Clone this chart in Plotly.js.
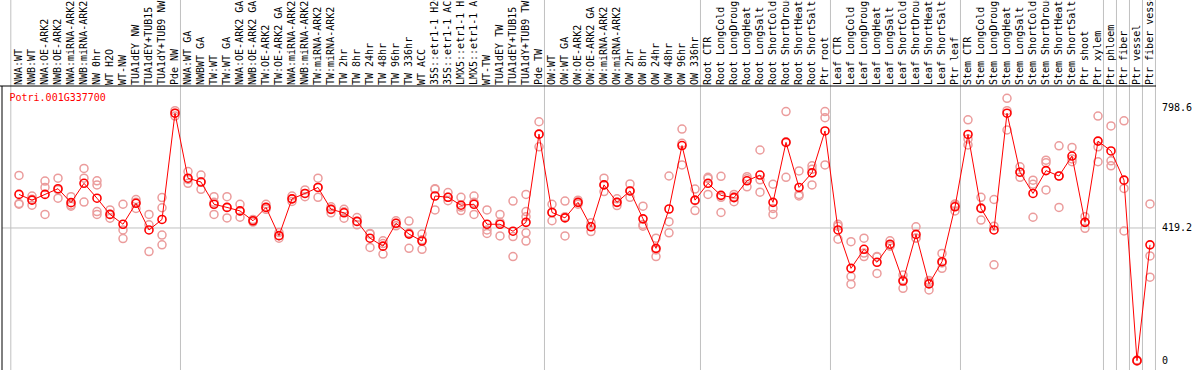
<!DOCTYPE html>
<html>
<head>
<meta charset="utf-8">
<script src="https://cdn.plot.ly/plotly-3.0.1.min.js"></script>
<style>
html,body{margin:0;padding:0;background:#fff;}
#chart{width:1194px;height:370px;}
</style>
</head>
<body>
<div id="chart"></div>
<script>
const geneName = "Potri.001G337700";

const categories = [
  "NWA:WT","NWB:WT","NWA:OE-ARK2","NWB:OE-ARK2","NWA:miRNA-ARK2","NWB:miRNA-ARK2","NW 0hr","WT H2O","WT-NW","TUA1dEY NW","TUA1dEY+TUB15","TUA1dY+TUB9 NW","Pde NW",
  "NWA:WT GA","NWBWT GA","TW:WT","TW:WT GA","NWA:OE-ARK2 GA","NWB:OE-ARK2 GA","TW:OE-ARK2","TW:OE-ARK2 GA","NWA:miRNA-ARK2","NWB:miRNA-ARK2","TW:miRNA-ARK2","TW:miRNA-ARK2","TW 2hr","TW 8hr","TW 24hr","TW 48hr","TW 96hr","TW 336hr","WT ACC","35S::etr1-1 H2O","35S::etr1-1 ACC","LMX5::etr1-1 H2O","LMX5::etr1-1 ACC","WT-TW","TUA1dEY TW","TUA1dEY+TUB15","TUA1dY+TUB9 TW","Pde TW",
  "OW:WT","OW:WT GA","OW:OE-ARK2","OW:OE-ARK2 GA","OW:miRNA-ARK2","OW:miRNA-ARK2","OW 2hr","OW 8hr","OW 24hr","OW 48hr","OW 96hr","OW 336hr",
  "Root CTR","Root LongCold","Root LongDrought","Root LongHeat","Root LongSalt","Root ShortCold","Root ShortDrought","Root ShortHeat","Root ShortSalt","Ptr root",
  "Leaf CTR","Leaf LongCold","Leaf LongDrought","Leaf LongHeat","Leaf LongSalt","Leaf ShortCold","Leaf ShortDrought","Leaf ShortHeat","Leaf ShortSalt","Ptr leaf",
  "Stem CTR","Stem LongCold","Stem LongDrought","Stem LongHeat","Stem LongSalt","Stem ShortCold","Stem ShortDrought","Stem ShortHeat","Stem ShortSalt","Ptr shoot","Ptr xylem",
  "Ptr phloem","Ptr fiber","Ptr vessel","Ptr fiber vessel"
];

const groupSizes = [13, 28, 12, 10, 10, 11, 1, 1, 1, 1];

const meanValues = [
  525,507,525,543,499,560,513,462,431,497,413,446,781,
  576,564,494,484,473,442,484,395,511,528,547,478,467,440,387,362,434,400,378,520,516,491,494,431,431,409,437,715,
  468,451,500,423,555,500,536,448,355,479,679,507,
  560,522,515,568,586,500,689,547,593,725,
  413,292,352,311,368,252,399,243,313,486,
  714,481,413,781,595,528,600,583,646,437,693,
  662,570,1,366
];

const replicates = [
  [585,496,494],[520,510,491],[567,547,462],[576,540,513],[518,492,488],[607,576,501],[568,555,471,462],[476,462,450],[494,413,386],[509,500,481],[462,429,345],[515,483,397,366],[789,781,772],
  [597,572,560],[586,565,541],[518,500,462],[518,484,451],[494,472,453],[446,442,438],[494,484,478],[405,395,387],[520,511,503],[539,528,518],[576,547,516],[486,478,467],[478,470,450],[452,440,429],[402,400,358],[379,370,337],[442,434,426],[441,404,355],[400,382,352],[543,541,476],[531,516,505],[516,485,474],[520,500,462],[476,413,402],[462,437,394],[504,392,329],[525,471,455,404,378],[754,715,675],
  [494,468,442],[504,455,394],[507,500,494],[436,424,408],[576,555,534],[511,500,490],[558,536,516],[488,430,425],[387,350,329],[583,439,404],[731,686,618],[542,505,474],
  [579,575,525],[582,516,468],[525,518,502],[581,574,549],[665,571,532],[557,481,462],[786,691,579],[599,525,520],[615,604,555],[786,767,618],
  [431,425,384],[376,266,242],[387,340,329],[329,328,276],[379,365,362],[271,256,229],[423,388,387],[254,249,224],[339,309,292],[495,490,473],
  [760,700,681],[516,483,444],[509,425,303],[828,789,728],[612,595,579],[570,557,453],[633,625,539],[678,583,484],[673,637,628],[455,437,418],[772,675,628],
  [741,631,615],[757,544,410],[3,0,0],[495,331,264]
];

const yTickValues = [0, 419.2, 798.6];
const yTickLabels = ["0", "419.2", "798.6"];

// ---- build traces ----
const idx = categories.map((c, i) => i);
const repX = [], repY = [];
replicates.forEach((arr, i) => arr.forEach(v => { repX.push(i); repY.push(v); }));

const FONT = "DejaVu Sans Mono, monospace";
const xRange = [-1.3077, 87.4615];
const yRange = [-28.4, 866.7];
const toPaperX = v => (v - xRange[0]) / (xRange[1] - xRange[0]);

const traces = [
  {
    x: repX, y: repY, type: "scatter", mode: "markers",
    marker: {symbol: "circle-open", size: 8, color: "#eb9c9c", line: {width: 1.5, color: "#eb9c9c"}},
    hoverinfo: "skip", showlegend: false
  },
  {
    x: idx, y: meanValues, type: "scatter", mode: "lines+markers",
    line: {color: "#ff0000", width: 1},
    marker: {symbol: "circle-open", size: 8, color: "#ff0000", line: {width: 1.6, color: "#ff0000"}},
    showlegend: false
  }
];

// group separators
const shapes = [];
const sepPositions = [-0.63];
let cum = 0;
groupSizes.forEach(n => { cum += n; sepPositions.push(cum - 1 + 0.42); });
sepPositions.forEach(p => {
  shapes.push({type: "line", xref: "paper", yref: "paper", x0: toPaperX(p), x1: toPaperX(p), y0: 0, y1: 1.31,
    line: {color: "#c0c0c0", width: 1}, layer: "below"});
});
// horizontal reference line
shapes.push({type: "line", xref: "paper", yref: "y", x0: 0, x1: 1, y0: yTickValues[1], y1: yTickValues[1],
  line: {color: "#c0c0c0", width: 1}, layer: "below"});
// black frame lines
shapes.push({type: "line", xref: "paper", yref: "paper", x0: -0.003, x1: 1, y0: 1, y1: 1,
  line: {color: "#000", width: 1}});
shapes.push({type: "line", xref: "paper", yref: "paper", x0: 0, x1: 0, y0: 0, y1: 1,
  line: {color: "#000", width: 1}});

const layout = {
  width: 1194, height: 370,
  margin: {l: 2, r: 38, t: 86, b: 0, pad: 0},
  paper_bgcolor: "#ffffff", plot_bgcolor: "#ffffff",
  font: {family: FONT, size: 10, color: "#000"},
  title: {text: geneName, font: {family: FONT, size: 10, color: "#ff0000"},
    xref: "container", yref: "container", x: 9.5 / 1194, xanchor: "left", y: 1 - 97 / 370, yanchor: "middle"},
  xaxis: {
    side: "top", range: xRange, tickmode: "array", tickvals: idx, ticktext: categories,
    tickangle: -90, ticks: "", showgrid: false, zeroline: false, showline: false,
    automargin: false, tickfont: {family: FONT, size: 10, color: "#000"}
  },
  yaxis: {
    side: "right", range: yRange, tickmode: "array", tickvals: yTickValues, ticktext: yTickLabels,
    ticks: "", showgrid: false, zeroline: false, showline: false, automargin: false,
    ticklabelstandoff: 5,
    tickfont: {family: FONT, size: 10, color: "#000"}
  },
  shapes: shapes,
  showlegend: false,
  hovermode: false
};

Plotly.newPlot("chart", traces, layout, {displayModeBar: false, staticPlot: true});
</script>
</body>
</html>
